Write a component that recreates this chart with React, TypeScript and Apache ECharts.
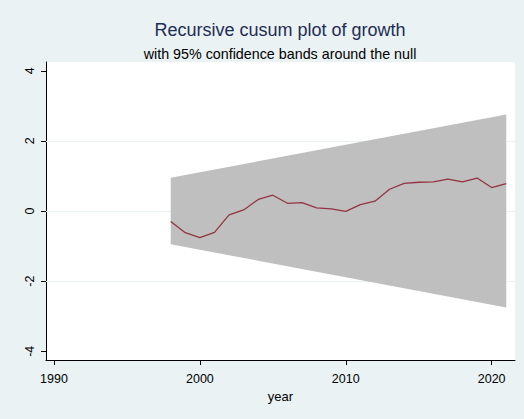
import React, { useEffect, useRef } from "react";
import * as echarts from "echarts";

const years = [1998, 1999, 2000, 2001, 2002, 2003, 2004, 2005, 2006, 2007, 2008, 2009, 2010, 2011, 2012, 2013, 2014, 2015, 2016, 2017, 2018, 2019, 2020, 2021];
const cusum = [-0.3, -0.62, -0.76, -0.61, -0.11, 0.03, 0.33, 0.45, 0.22, 0.24, 0.09, 0.06, -0.01, 0.18, 0.28, 0.62, 0.79, 0.82, 0.83, 0.91, 0.83, 0.94, 0.67, 0.78];
const bandYears = [1998, 2021];
const bandLower = [-0.95, -2.75];
const bandUpper = [0.95, 2.75];
const xTicks = [1990, 2000, 2010, 2020];
const yTicks = [-4, -2, 0, 2, 4];
const yGrid = [-2, 0, 2];

const FONT = "Liberation Sans";

export default function App() {
  const ref = useRef<HTMLDivElement>(null);
  useEffect(() => {
    document.body.style.margin = "0";
    const chart = echarts.init(ref.current!, null, { renderer: "svg" });
    chart.setOption({
      animation: false,
      backgroundColor: "#EAF2F3",
      textStyle: { fontFamily: FONT },
      title: [
        {
          text: "Recursive cusum plot of growth",
          left: 275,
          textAlign: "center",
          top: 16,
          textStyle: { fontFamily: FONT, fontSize: 18, fontWeight: "normal", color: "#1E2D53" },
        },
        {
          text: "with 95% confidence bands around the null",
          left: 275,
          textAlign: "center",
          top: 42,
          textStyle: { fontFamily: FONT, fontSize: 14.3, fontWeight: "normal", color: "#000" },
        },
      ],
      grid: { left: 46, right: 9, top: 62, bottom: 59, show: true, backgroundColor: "#fff", borderWidth: 0 },
      xAxis: {
        type: "value",
        min: 1989.45,
        max: 2021.6,
        name: "year",
        nameLocation: "middle",
        nameGap: 27,
        nameTextStyle: { fontFamily: FONT, fontSize: 13, color: "#000" },
        axisLine: { show: true, onZero: false, lineStyle: { color: "#000", width: 1 } },
        axisTick: { show: true, customValues: xTicks, length: 5, lineStyle: { color: "#000" } },
        axisLabel: { customValues: xTicks, margin: 12, fontFamily: FONT, fontSize: 12.5, color: "#000", formatter: (v: number) => String(v) },
        splitLine: { show: false },
      },
      yAxis: {
        type: "value",
        min: -4.25,
        max: 4.25,
        axisLine: { show: true, onZero: false, lineStyle: { color: "#000", width: 1 } },
        axisTick: { show: true, customValues: yTicks, length: 5, lineStyle: { color: "#000" } },
        axisLabel: { customValues: yTicks, rotate: 90, margin: 10, fontFamily: FONT, fontSize: 12.5, color: "#000", formatter: (v: number) => String(v) },
        splitLine: { show: false },
      },
      series: [
        {
          type: "line",
          data: [],
          z: 1,
          markLine: {
            z: 1,
            silent: true,
            symbol: "none",
            label: { show: false },
            lineStyle: { color: "#EAF2F3", type: "solid", width: 1 },
            data: yGrid.map((v) => ({ yAxis: v })),
          },
        },
        {
          type: "custom",
          z: 3,
          data: bandYears.map((y, i) => [y, bandLower[i], bandUpper[i]]),
          encode: { x: 0, y: [1, 2] },
          renderItem: (params: any, api: any) => {
            if (params.dataIndex !== 0) return null;
            const pts: number[][] = [];
            for (let i = 0; i < bandYears.length; i++) pts.push(api.coord([bandYears[i], bandUpper[i]]));
            for (let i = bandYears.length - 1; i >= 0; i--) pts.push(api.coord([bandYears[i], bandLower[i]]));
            return { type: "polygon", shape: { points: pts }, style: { fill: "#BFBFBF" } };
          },
        },
        {
          type: "line",
          z: 4,
          data: years.map((y, i) => [y, cusum[i]]),
          showSymbol: false,
          symbol: "none",
          lineStyle: { color: "#93343E", width: 1.3 },
        },
      ],
    });
    return () => chart.dispose();
  }, []);
  return <div ref={ref} style={{ width: 524, height: 419 }} />;
}
